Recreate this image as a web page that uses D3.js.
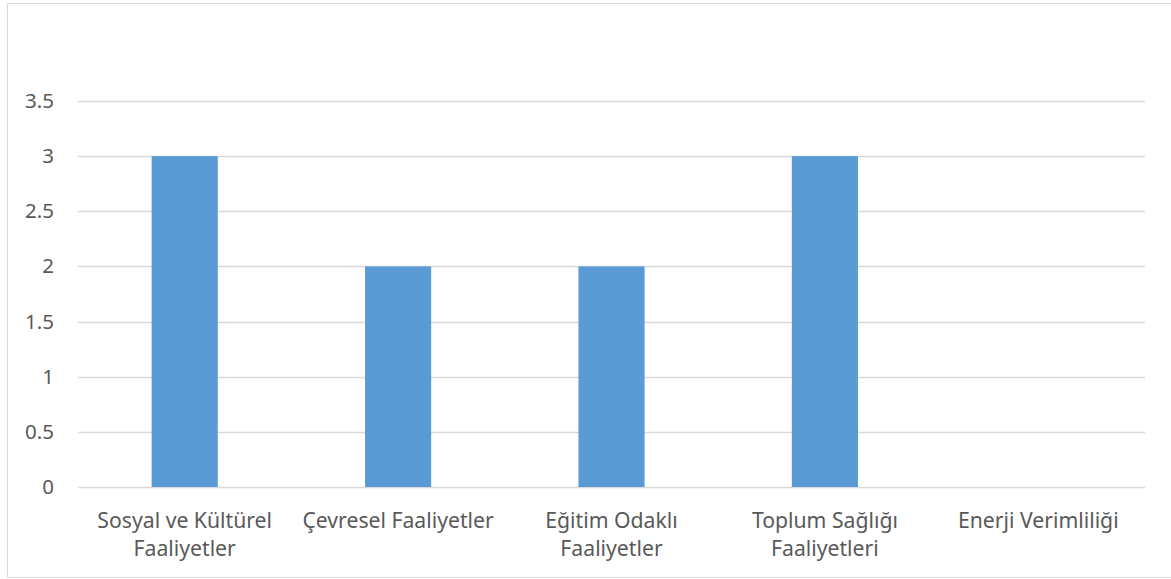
<!DOCTYPE html>
<html>
<head>
<meta charset="utf-8">
<script src="https://cdn.jsdelivr.net/npm/d3@7"></script>
<style>
  html, body { margin: 0; padding: 0; background: #fff; }
  svg { display: block; }
  text { font-family: "Noto Sans", "Open Sans", sans-serif; fill: #595959; }
</style>
</head>
<body>
<svg id="chart" width="1171" height="579"></svg>
<script>
// Activity categories (each label split into display lines)
const categories = [
  ["Sosyal ve Kültürel", "Faaliyetler"],
  ["Çevresel Faaliyetler"],
  ["Eğitim Odaklı", "Faaliyetler"],
  ["Toplum Sağlığı", "Faaliyetleri"],
  ["Enerji Verimliliği"]
];
const values = [3, 2, 2, 3, 0];
const yTicks = [0, 0.5, 1, 1.5, 2, 2.5, 3, 3.5];

const W = 1171, H = 579;
const margin = { left: 78, right: 26, top: 101, bottom: 92 };
const fontSize = 20.5;
const catFontSize = 21.2;
const svg = d3.select("#chart");

// Chart area frame (open on the right side)
svg.append("path")
  .attr("d", `M${W + 2},3.5 H7.5 V577.5 H${W + 2}`)
  .attr("fill", "none")
  .attr("stroke", "#d9d9d9")
  .attr("stroke-width", 1);

const x = d3.scaleBand()
  .domain(d3.range(categories.length))
  .range([margin.left, W - margin.right])
  .paddingInner(0.69)
  .paddingOuter(0.345);

const y = d3.scaleLinear()
  .domain([0, 3.5])
  .range([H - margin.bottom, margin.top]);

// Horizontal gridlines
svg.append("g")
  .selectAll("line")
  .data(yTicks)
  .join("line")
  .attr("x1", margin.left)
  .attr("x2", W - margin.right)
  .attr("y1", d => Math.round(y(d)) + 0.5)
  .attr("y2", d => Math.round(y(d)) + 0.5)
  .attr("stroke", "#d9d9d9")
  .attr("stroke-width", 1.3);

// Y axis labels
const yAxis = d3.axisLeft(y).tickValues(yTicks).tickSize(0).tickPadding(0).tickFormat(d3.format("~g"));
svg.append("g")
  .attr("transform", `translate(${54},0)`)
  .call(yAxis)
  .call(g => g.select(".domain").remove())
  .call(g => g.attr("font-size", null).attr("font-family", null))
  .selectAll("text")
  .style("font-size", fontSize + "px")
  .attr("fill", "#595959");

// Bars
svg.append("g")
  .selectAll("rect")
  .data(values)
  .join("rect")
  .attr("x", (d, i) => x(i))
  .attr("width", x.bandwidth())
  .attr("y", d => y(d))
  .attr("height", d => y(0) - y(d))
  .attr("fill", "#5b9bd5");

// Category labels
const labels = svg.append("g")
  .selectAll("text")
  .data(categories)
  .join("text")
  .attr("text-anchor", "middle")
  .style("font-size", catFontSize + "px")
  .attr("x", (d, i) => x(i) + x.bandwidth() / 2)
  .attr("y", H - margin.bottom + 41);

labels.selectAll("tspan")
  .data(d => d)
  .join("tspan")
  .attr("x", function () { return d3.select(this.parentNode).attr("x"); })
  .attr("dy", (d, i) => i === 0 ? 0 : 28.3)
  .text(d => d);
</script>
</body>
</html>
